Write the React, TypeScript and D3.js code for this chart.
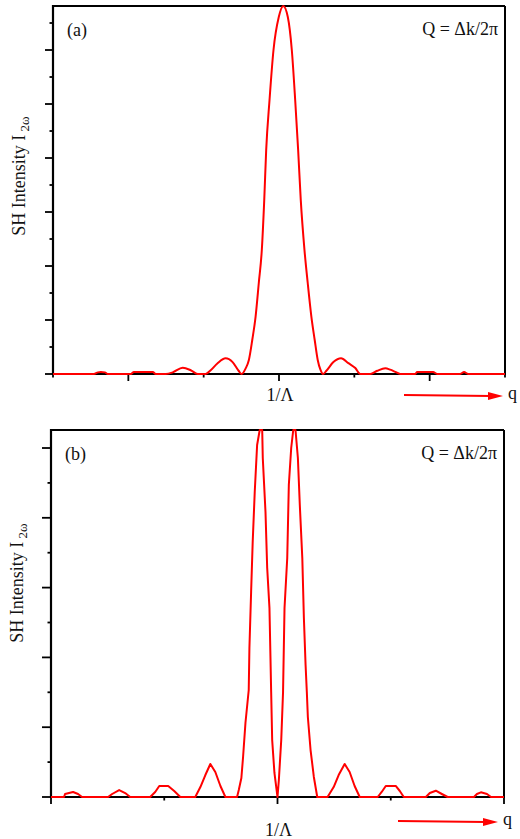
import React from "react";
import * as d3 from "d3";

// ---- Panel (a) data: q (in tick units, 0 = 1/Λ) and SH intensity (in y-tick units)
const topQ = [
  -3.0, -2.457, -2.404, -2.364, -2.311, -2.272, -1.967, -1.927, -1.675, -1.636,
  -1.503, -1.411, -1.278, -1.172, -1.079, -0.974, -0.907, -0.815, -0.709, -0.616,
  -0.536, -0.497, -0.444, -0.4, -0.355, -0.311, -0.268, -0.228, -0.196, -0.17,
  -0.126, -0.073, -0.003, 0.056, 0.117, 0.17, 0.215, 0.254, 0.289, 0.338,
  0.381, 0.43, 0.474, 0.514, 0.55, 0.585, 0.629, 0.722, 0.824, 0.921,
  1.013, 1.079, 1.212, 1.305, 1.411, 1.477, 1.543, 1.609, 1.808, 1.834,
  2.046, 2.099, 2.404, 2.457, 2.51, 3.0,
];
const topI = [
  0, 0, 0.03, 0.035, 0.03, 0, 0, 0.035, 0.035, 0,
  0, 0.03, 0.117, 0.07, 0, 0, 0.07, 0.2, 0.29, 0.22,
  0.06, 0, 0.1, 0.26, 0.63, 1.06, 1.69, 2.3, 3.22, 4.15,
  5.07, 6.0, 6.61, 6.815, 6.61, 6.0, 5.07, 4.15, 3.22, 2.3,
  1.69, 1.06, 0.63, 0.26, 0.08, 0, 0.06, 0.22, 0.29, 0.2,
  0.11, 0, 0, 0.06, 0.105, 0.08, 0.04, 0, 0, 0.035,
  0.035, 0, 0, 0.035, 0, 0,
];
const topXMajor = [-2, 0, 2];
const topXMinor = [-3, -1, 1, 3];
const topYMajor = [0, 1, 2, 3, 4, 5, 6];
const topYMinor = [0.5, 1.5, 2.5, 3.5, 4.5, 5.5, 6.5];

// ---- Panel (b) data
const botQ = [
  -2.0, -1.885, -1.876, -1.805, -1.761, -1.726, -1.496, -1.46, -1.398, -1.345,
  -1.301, -1.124, -1.08, -1.044, -0.965, -0.912, -0.858, -0.726, -0.681, -0.637,
  -0.593, -0.549, -0.504, -0.46, -0.357, -0.342, -0.319, -0.304, -0.283, -0.254,
  -0.248, -0.233, -0.219, -0.201, -0.18, -0.157, -0.135, -0.13, -0.106, -0.091,
  -0.071, -0.062, -0.056, -0.047, -0.027, 0, 0.012, 0.033, 0.049, 0.062,
  0.086, 0.1, 0.121, 0.139, 0.159, 0.18, 0.197, 0.219, 0.233, 0.248,
  0.259, 0.268, 0.292, 0.321, 0.351, 0.442, 0.496, 0.54, 0.593, 0.637,
  0.681, 0.726, 0.885, 0.92, 0.956, 1.044, 1.08, 1.115, 1.31, 1.345,
  1.398, 1.451, 1.502, 1.735, 1.761, 1.796, 1.85, 1.885, 2.0,
];
const botI = [
  0, 0, 0.043, 0.072, 0.043, 0, 0, 0.043, 0.1, 0.057,
  0, 0, 0.072, 0.158, 0.158, 0.086, 0, 0, 0.143, 0.315,
  0.473, 0.358, 0.158, 0, 0, 0.1, 0.272, 0.573, 1.06, 1.533,
  2.135, 2.937, 3.653, 4.37, 5.043, 5.258, 5.258, 4.857, 4.083, 3.281,
  2.708, 1.991, 1.504, 0.817, 0.344, 0, 0.244, 0.817, 1.504, 2.708,
  3.424, 4.47, 5.0, 5.258, 5.258, 4.857, 4.183, 3.424, 2.564, 1.891,
  1.504, 1.146, 0.673, 0.287, 0, 0, 0.143, 0.315, 0.473, 0.358,
  0.158, 0, 0, 0.072, 0.158, 0.158, 0.086, 0, 0, 0.057,
  0.09, 0.043, 0, 0, 0.043, 0.067, 0.043, 0, 0,
];
const botXMajor = [-2, 0, 2];
const botXMinor = [-1, 1];
const botYMajor = [0, 1, 2, 3, 4, 5];
const botYMinor = [0.5, 1.5, 2.5, 3.5, 4.5];

const FONT = "'Liberation Serif', 'Times New Roman', serif";
const RED = "#ff0000";

type PanelProps = {
  label: string;
  q: number[];
  I: number[];
  xDomain: [number, number];
  yMax: number;
  left: number;
  right: number;
  top: number;
  bottom: number;
  xMajor: number[];
  xMinor: number[];
  yMajor: number[];
  yMinor: number[];
  smooth: boolean;
  yLabelX: number;
  yLabelY: number;
  bottomLabelY: number;
  arrowY: number;
  arrowX0: number;
  arrowX1: number;
  yMajorLen: number;
};

function Panel(p: PanelProps) {
  const x = d3.scaleLinear().domain(p.xDomain).range([p.left, p.right]);
  const y = d3.scaleLinear().domain([0, p.yMax]).range([p.bottom, p.top]);
  const pts: [number, number][] = p.q.map((v, i) => [v, p.I[i]]);
  const line = d3
    .line<[number, number]>()
    .x((d) => x(d[0]))
    .y((d) => y(d[1]))
    .curve(p.smooth ? d3.curveMonotoneX : d3.curveLinear);
  return (
    <g>
      {/* frame */}
      <line x1={p.left} x2={p.right} y1={p.top} y2={p.top} stroke="#000" strokeWidth={2} />
      <line x1={p.right} x2={p.right} y1={p.top} y2={p.bottom} stroke="#000" strokeWidth={2} />
      <line x1={p.left} x2={p.left} y1={p.top - 1} y2={p.bottom + 1} stroke="#000" strokeWidth={2.2} />
      <line x1={p.left - 1} x2={p.right + 1} y1={p.bottom} y2={p.bottom} stroke="#000" strokeWidth={2.2} />
      {/* y ticks */}
      {p.yMajor.map((t) => (
        <line key={"ym" + t} x1={p.left - p.yMajorLen} x2={p.left} y1={y(t)} y2={y(t)} stroke="#000" strokeWidth={1.8} />
      ))}
      {p.yMinor.map((t) => (
        <line key={"yn" + t} x1={p.left - 3.5} x2={p.left} y1={y(t)} y2={y(t)} stroke="#000" strokeWidth={1.8} />
      ))}
      {/* x ticks */}
      {p.xMajor.map((t) => (
        <line key={"xm" + t} x1={x(t)} x2={x(t)} y1={p.bottom} y2={p.bottom + 7} stroke="#000" strokeWidth={1.8} />
      ))}
      {p.xMinor.map((t) => (
        <line key={"xn" + t} x1={x(t)} x2={x(t)} y1={p.bottom} y2={p.bottom + 3.5} stroke="#000" strokeWidth={1.8} />
      ))}
      {/* curve */}
      <path d={line(pts) || ""} fill="none" stroke={RED} strokeWidth={2} strokeLinejoin="round" />
      {/* texts */}
      <text x={p.left + 14} y={p.top + 30} fontFamily={FONT} fontSize={18} fill="#111">
        {p.label}
      </text>
      <text x={p.right - 7} y={p.top + 29} fontFamily={FONT} fontSize={18} textAnchor="end" fill="#111">
        Q = Δk/2π
      </text>
      <text
        transform={`translate(${p.yLabelX},${p.yLabelY}) rotate(-90)`}
        fontFamily={FONT}
        fontSize={18}
        textAnchor="middle"
        fill="#111"
      >
        SH Intensity I
        <tspan dy={4} fontSize={13}>
          {" 2ω"}
        </tspan>
      </text>
      <text x={x(0) + 1} y={p.bottomLabelY} fontFamily={FONT} fontSize={18} textAnchor="middle" fill="#111">
        1/Λ
      </text>
      {/* arrow */}
      <line x1={p.arrowX0} x2={p.arrowX1 - 12} y1={p.arrowY - 1} y2={p.arrowY} stroke={RED} strokeWidth={1.8} />
      <polygon
        points={`${p.arrowX1 - 15},${p.arrowY - 4} ${p.arrowX1},${p.arrowY} ${p.arrowX1 - 15},${p.arrowY + 4}`}
        fill={RED}
      />
      <text x={p.arrowX1 + 5} y={p.arrowY + 3} fontFamily={FONT} fontSize={18} fill="#111">
        q
      </text>
    </g>
  );
}

export default function App() {
  return (
    <svg
      width={520}
      height={839}
      style={{ position: "absolute", left: 0, top: 0, background: "#fff" }}
    >
      <rect width={520} height={839} fill="#fff" />
      <Panel
        label="(a)"
        q={topQ}
        I={topI}
        xDomain={[-3, 3]}
        yMax={6.815}
        left={53}
        right={505}
        top={6}
        bottom={374}
        xMajor={topXMajor}
        xMinor={topXMinor}
        yMajor={topYMajor}
        yMinor={topYMinor}
        smooth={true}
        yLabelX={25}
        yLabelY={176}
        bottomLabelY={401}
        arrowY={396}
        arrowX0={404}
        arrowX1={503}
        yMajorLen={8}
      />
      <Panel
        label="(b)"
        q={botQ}
        I={botI}
        xDomain={[-2, 2]}
        yMax={5.258}
        left={51}
        right={504}
        top={430}
        bottom={797}
        xMajor={botXMajor}
        xMinor={botXMinor}
        yMajor={botYMajor}
        yMinor={botYMinor}
        smooth={false}
        yLabelX={23}
        yLabelY={583}
        bottomLabelY={836}
        arrowY={822}
        arrowX0={398}
        arrowX1={498}
        yMajorLen={9}
      />
    </svg>
  );
}
